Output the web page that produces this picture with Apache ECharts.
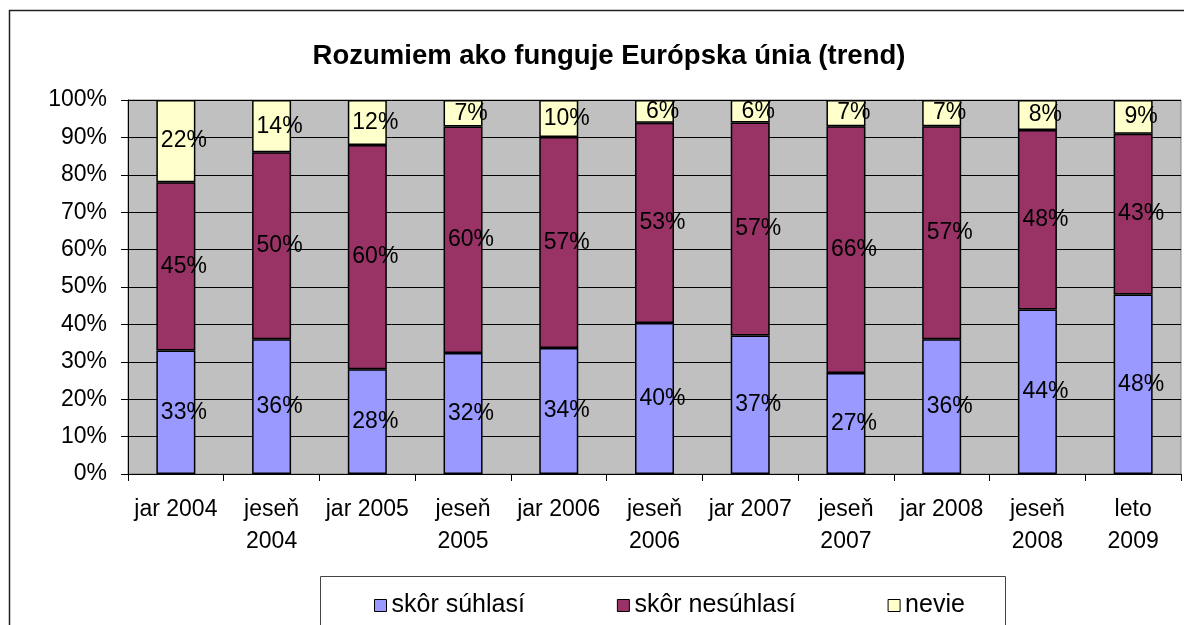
<!DOCTYPE html>
<html>
<head>
<meta charset="utf-8">
<script src="https://cdn.jsdelivr.net/npm/echarts@6/dist/echarts.min.js"></script>
<style>
html, body { margin: 0; padding: 0; background: #fff; }
#chart { width: 1184px; height: 625px; }
</style>
</head>
<body>
<div id="chart"></div>
<script>
'use strict';

var categories = ['jar 2004', 'jeseň\n2004', 'jar 2005', 'jeseň\n2005', 'jar 2006', 'jeseň\n2006',
    'jar 2007', 'jeseň\n2007', 'jar 2008', 'jeseň\n2008', 'leto\n2009'];
var suhlasi   = [33, 36, 28, 32, 34, 40, 37, 27, 36, 44, 48];
var nesuhlasi = [45, 50, 60, 60, 57, 53, 57, 66, 57, 48, 43];
var nevie     = [22, 14, 12, 7, 10, 6, 6, 7, 7, 8, 9];
var yTicks = ['0%', '10%', '20%', '30%', '40%', '50%', '60%', '70%', '80%', '90%', '100%'];

var font = '"Liberation Sans", Arial, sans-serif';

// 100% stacked: každý stĺpec sa prepočíta na súčet 100
function toShare(arr) {
    var out = [];
    for (var i = 0; i < arr.length; i ++) {
        var total = suhlasi[i] + nesuhlasi[i] + nevie[i];
        out.push({ value: arr[i] / total * 100, raw: arr[i] });
    }
    return out;
}

function makeSeries(name, arr, color) {
    return {
        name: name,
        type: 'bar',
        stack: 'all',
        barWidth: 39,
        data: toShare(arr),
        itemStyle: { color: color, borderColor: '#000', borderWidth: 1.5 },
        label: {
            show: true,
            position: 'inside',
            offset: [8, 0],
            color: '#000',
            fontFamily: font,
            fontSize: 23,
            formatter: function (p) { return p.data.raw + '%'; }
        }
    };
}

var chart = echarts.init(document.getElementById('chart'));
var option = {
    backgroundColor: '#fff',
    animation: false,
    title: {
        text: 'Rozumiem ako funguje Európska únia (trend)',
        left: 604,
        textAlign: 'center',
        top: 37,
        textStyle: { fontFamily: font, fontSize: 27.5, fontWeight: 'bold', color: '#000' }
    },
    graphic: [
        { type: 'rect', z: -10, shape: { x: 9.5, y: 10.5, width: 1300, height: 800 },
          style: { fill: '#fff', stroke: '#222', lineWidth: 1.5 } },
        { type: 'rect', z: -5, shape: { x: 320.5, y: 576.5, width: 685, height: 100 },
          style: { fill: '#fff', stroke: '#444', lineWidth: 1 } }
    ],
    legend: {
        left: 369,
        top: 588,
        itemWidth: 12,
        itemHeight: 12,
        itemGap: 92,
        icon: 'rect',
        itemStyle: { borderColor: '#000', borderWidth: 1 },
        textStyle: { fontFamily: font, fontSize: 25, color: '#000' },
        data: ['skôr súhlasí', 'skôr nesúhlasí', 'nevie']
    },
    grid: {
        left: 128, right: 3, top: 100, bottom: 151,
        show: true, backgroundColor: '#C0C0C0', borderColor: '#808080', borderWidth: 1
    },
    xAxis: {
        type: 'category',
        data: categories,
        axisLine: { lineStyle: { color: '#000', width: 1 } },
        axisTick: { show: true, length: 7, lineStyle: { color: '#000' } },
        axisLabel: { color: '#000', fontFamily: font, fontSize: 23, lineHeight: 32, margin: 20, interval: 0 }
    },
    yAxis: {
        type: 'value',
        min: 0,
        max: 100,
        interval: 10,
        axisLine: { show: true, lineStyle: { color: '#000', width: 1 } },
        axisTick: { show: true, length: 7, lineStyle: { color: '#000' } },
        splitLine: { lineStyle: { color: '#000', width: 1 } },
        axisLabel: {
            color: '#000', fontFamily: font, fontSize: 23, margin: 21,
            formatter: function (v) { return yTicks[Math.round(v / 10)]; }
        }
    },
    series: [
        makeSeries('skôr súhlasí', suhlasi, '#9999FF'),
        makeSeries('skôr nesúhlasí', nesuhlasi, '#993366'),
        makeSeries('nevie', nevie, '#FFFFCC')
    ]
};
chart.setOption(option);
</script>
</body>
</html>
